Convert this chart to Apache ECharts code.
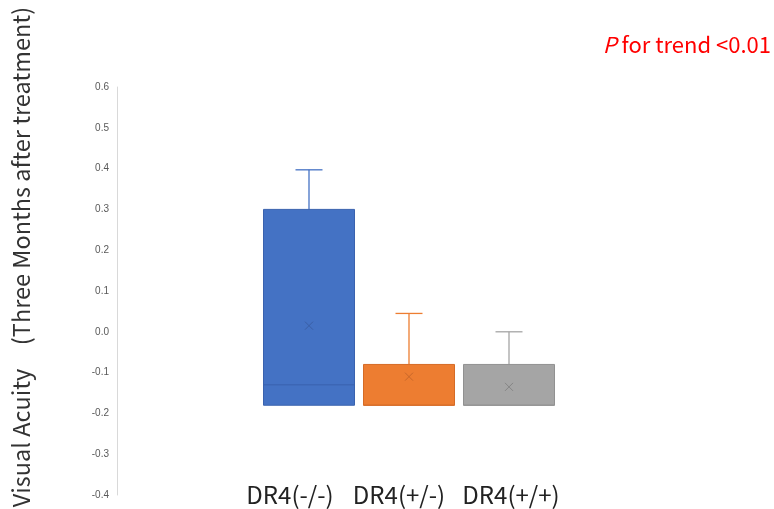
<!DOCTYPE html>
<html>
<head>
<meta charset="utf-8">
<script src="https://cdn.jsdelivr.net/npm/echarts@6/dist/echarts.min.js"></script>
<style>html,body{margin:0;padding:0;background:#fff}#c{width:774px;height:509px}</style>
</head>
<body>
<div id="c"></div>
<script>
var categories = ['DR4(-/-)', 'DR4(+/-)', 'DR4(+/+)'];
// [min, Q1, median, Q3, max]
var boxValues = [
  [-0.18, -0.18, -0.13, 0.30, 0.397],
  [-0.18, -0.18, -0.18, -0.08, 0.045],
  [-0.18, -0.18, -0.18, -0.08, 0.00]
];
var means = [0.015, -0.11, -0.135];
var yTicks = [-0.4, -0.3, -0.2, -0.1, 0.0, 0.1, 0.2, 0.3, 0.4, 0.5, 0.6];
var yTitle = 'Visual Acuity\u3000(Three Months after treatment)';
var trendItalic = 'P';
var trendText = ' for trend <0.01';

var fills = ['#4472C4', '#ED7D31', '#A5A5A5'];
var borders = ['#3A62AE', '#D56B26', '#919191'];
var marks = ['#3A5FA6', '#C8672A', '#858585'];
var labelShift = [-19, -10, 2];

var FONT = '"Noto Sans CJK JP", "Noto Sans", sans-serif';

var data = categories.map(function (c, i) {
  return [i].concat(boxValues[i]).concat([means[i]]);
});

var chart = echarts.init(document.getElementById('c'));
chart.setOption({
  animation: false,
  backgroundColor: '#fff',
  title: {
    text: '{i|' + trendItalic + '}{n|' + trendText + '}',
    right: 3, top: 34, padding: 0,
    textStyle: {
      rich: {
        i: { fontStyle: 'italic', fontWeight: 'normal', fontSize: 22, color: '#FF0000', fontFamily: FONT },
        n: { fontWeight: 'normal', fontSize: 22, color: '#FF0000', fontFamily: FONT }
      }
    }
  },
  graphic: [{
    type: 'text',
    x: 21, y: 257,
    rotation: Math.PI / 2,
    style: {
      text: yTitle,
      align: 'center', verticalAlign: 'middle',
      fontSize: 23.5, fontFamily: FONT, fill: '#333'
    }
  }],
  grid: { left: 259, width: 300, top: 87, height: 408 },
  xAxis: {
    type: 'category',
    data: categories,
    axisLine: { show: false },
    axisTick: { show: false },
    axisLabel: {
      margin: 0,
      verticalAlign: 'middle',
      interval: 0,
      formatter: function (v) {
        var i = categories.indexOf(v);
        return '{s' + i + '|' + v + '}';
      },
      rich: {
        s0: { fontSize: 24, color: '#222', fontFamily: FONT, padding: [0, -2 * labelShift[0], 0, 0] },
        s1: { fontSize: 24, color: '#222', fontFamily: FONT, padding: [0, -2 * labelShift[1], 0, 0] },
        s2: { fontSize: 24, color: '#222', fontFamily: FONT, padding: [0, 0, 0, 2 * labelShift[2]] }
      }
    }
  },
  yAxis: {
    type: 'value',
    min: -0.4, max: 0.6, interval: 0.1,
    offset: 142,
    axisLine: { show: true, lineStyle: { color: '#D9D9D9', width: 1 } },
    axisTick: { show: false },
    splitLine: { show: false },
    axisLabel: {
      margin: 8,
      fontSize: 10,
      color: '#595959',
      fontFamily: '"Liberation Sans", Arial, sans-serif',
      formatter: function (v) { return (Math.round(v * 10) / 10).toFixed(1); }
    }
  },
  series: [{
    type: 'custom',
    data: data,
    encode: { x: 0, y: [1, 2, 3, 4, 5, 6] },
    renderItem: function (params, api) {
      var i = api.value(0);
      var band = api.size([1, 0])[0];
      var cx = api.coord([i, 0])[0];
      var bw = band * 0.91;
      var cw = band * 0.27;
      var yMin = api.coord([i, api.value(1)])[1];
      var yQ1 = api.coord([i, api.value(2)])[1];
      var yMed = api.coord([i, api.value(3)])[1];
      var yQ3 = api.coord([i, api.value(4)])[1];
      var yMax = api.coord([i, api.value(5)])[1];
      var yMean = api.coord([i, api.value(6)])[1];
      var fill = fills[i], bc = borders[i], mc = marks[i];
      var ch = [];
      ch.push({ type: 'line', shape: { x1: cx, y1: yQ3, x2: cx, y2: yMax }, style: { stroke: fill, lineWidth: 1.3 } });
      ch.push({ type: 'line', shape: { x1: cx - cw / 2, y1: yMax, x2: cx + cw / 2, y2: yMax }, style: { stroke: fill, lineWidth: 1.3 } });
      if (yMin - yQ1 > 0.5) {
        ch.push({ type: 'line', shape: { x1: cx, y1: yQ1, x2: cx, y2: yMin }, style: { stroke: fill, lineWidth: 1.3 } });
        ch.push({ type: 'line', shape: { x1: cx - cw / 2, y1: yMin, x2: cx + cw / 2, y2: yMin }, style: { stroke: fill, lineWidth: 1.3 } });
      }
      ch.push({ type: 'rect', shape: { x: cx - bw / 2, y: yQ3, width: bw, height: yQ1 - yQ3 }, style: { fill: fill, stroke: bc, lineWidth: 1 } });
      ch.push({ type: 'line', shape: { x1: cx - bw / 2, y1: yMed, x2: cx + bw / 2, y2: yMed }, style: { stroke: bc, lineWidth: 1 } });
      var s = 4;
      ch.push({ type: 'line', shape: { x1: cx - s, y1: yMean - s, x2: cx + s, y2: yMean + s }, style: { stroke: mc, lineWidth: 1 } });
      ch.push({ type: 'line', shape: { x1: cx - s, y1: yMean + s, x2: cx + s, y2: yMean - s }, style: { stroke: mc, lineWidth: 1 } });
      return { type: 'group', children: ch };
    }
  }]
});
</script>
</body>
</html>
